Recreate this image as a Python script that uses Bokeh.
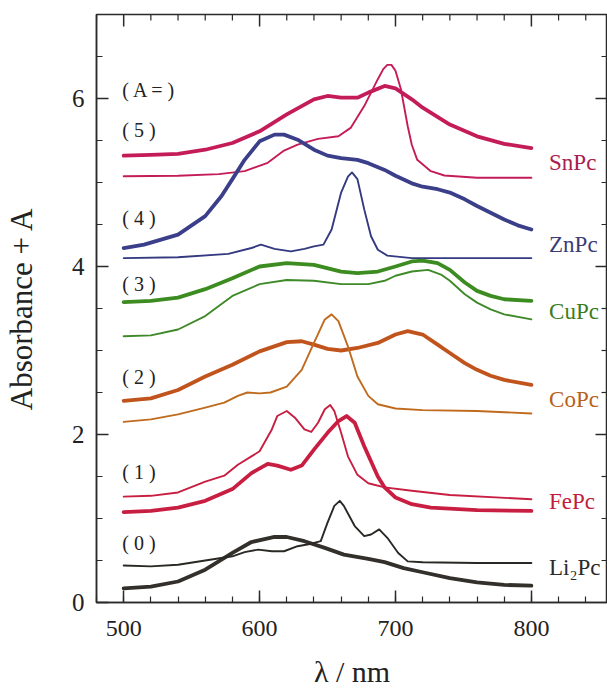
import math
from bokeh.plotting import figure
from bokeh.models import Range1d, SingleIntervalTicker, ColumnDataSource
from bokeh.core.properties import value
from bokeh.embed import file_html
from bokeh.resources import INLINE

# ---------------- data ----------------
sn_thick_nm = [500, 520, 540, 560, 580, 600, 620, 640, 650, 660, 672, 680, 692, 700, 712, 720, 740, 760, 780, 800]
sn_thick_a = [5.32, 5.33, 5.34, 5.39, 5.47, 5.61, 5.81, 5.99, 6.03, 6.01, 6.01, 6.07, 6.15, 6.12, 5.99, 5.89, 5.69, 5.55, 5.46, 5.41]
sn_thin_nm = [500, 540, 570, 589, 606, 618, 628, 643, 658, 667, 677, 687, 691, 694, 697, 700, 704, 709, 712, 716, 726, 736, 760, 800]
sn_thin_a = [5.075, 5.08, 5.10, 5.135, 5.234, 5.38, 5.45, 5.52, 5.55, 5.65, 5.91, 6.23, 6.35, 6.40, 6.40, 6.33, 6.11, 5.67, 5.45, 5.27, 5.135, 5.083, 5.056, 5.056]

zn_thick_nm = [500, 515, 540, 560, 572, 580, 589, 600, 611, 618, 628, 640, 650, 660, 672, 680, 692, 700, 712, 720, 731, 740, 751, 760, 770, 780, 790, 800]
zn_thick_a = [4.22, 4.26, 4.38, 4.60, 4.84, 5.04, 5.27, 5.49, 5.57, 5.57, 5.51, 5.39, 5.32, 5.29, 5.27, 5.23, 5.15, 5.08, 4.99, 4.95, 4.92, 4.88, 4.80, 4.72, 4.64, 4.56, 4.49, 4.44]
zn_thin_nm = [500, 540, 577, 594, 601, 611, 623, 633, 640, 647, 653, 660, 665, 668, 672, 677, 682, 687, 694, 712, 800]
zn_thin_a = [4.10, 4.11, 4.15, 4.22, 4.26, 4.21, 4.18, 4.21, 4.24, 4.26, 4.44, 4.88, 5.07, 5.12, 5.04, 4.68, 4.36, 4.20, 4.13, 4.10, 4.10]

cu_thick_nm = [500, 520, 540, 560, 580, 600, 620, 640, 660, 672, 687, 700, 712, 720, 731, 740, 751, 760, 770, 780, 800]
cu_thick_a = [3.575, 3.59, 3.63, 3.73, 3.86, 4.00, 4.04, 4.02, 3.94, 3.92, 3.94, 4.00, 4.06, 4.07, 4.04, 3.96, 3.81, 3.71, 3.65, 3.61, 3.59]
cu_thin_nm = [500, 520, 540, 560, 580, 600, 620, 640, 660, 680, 692, 700, 712, 724, 734, 740, 751, 760, 770, 780, 800]
cu_thin_a = [3.17, 3.18, 3.25, 3.41, 3.65, 3.79, 3.84, 3.83, 3.79, 3.79, 3.83, 3.89, 3.94, 3.96, 3.90, 3.83, 3.67, 3.57, 3.49, 3.43, 3.37]

co_thick_nm = [500, 520, 540, 560, 580, 600, 620, 631, 640, 650, 660, 672, 687, 700, 709, 720, 731, 740, 751, 760, 770, 780, 800]
co_thick_a = [2.40, 2.43, 2.53, 2.69, 2.83, 2.99, 3.10, 3.11, 3.07, 3.02, 3.00, 3.03, 3.09, 3.19, 3.23, 3.19, 3.07, 2.97, 2.85, 2.77, 2.70, 2.65, 2.59]
co_thin_nm = [500, 520, 540, 560, 574, 584, 591, 600, 608, 620, 631, 640, 648, 653, 658, 665, 672, 680, 687, 700, 720, 760, 800]
co_thin_a = [2.15, 2.18, 2.24, 2.32, 2.38, 2.46, 2.50, 2.49, 2.50, 2.57, 2.77, 3.09, 3.37, 3.43, 3.35, 3.05, 2.69, 2.46, 2.36, 2.31, 2.29, 2.28, 2.25]

fe_thick_nm = [500, 520, 540, 560, 580, 594, 606, 613, 623, 631, 640, 650, 658, 664, 670, 677, 687, 692, 700, 712, 726, 760, 800]
fe_thick_a = [1.075, 1.09, 1.13, 1.21, 1.35, 1.54, 1.65, 1.63, 1.58, 1.63, 1.82, 2.02, 2.16, 2.22, 2.14, 1.86, 1.50, 1.37, 1.25, 1.17, 1.13, 1.10, 1.09]
fe_thin_nm = [500, 520, 540, 560, 574, 584, 594, 600, 609, 613, 620, 626, 633, 638, 643, 648, 652, 655, 660, 665, 672, 680, 692, 712, 740, 800]
fe_thin_a = [1.26, 1.27, 1.31, 1.44, 1.51, 1.64, 1.74, 1.80, 2.06, 2.22, 2.28, 2.20, 2.06, 2.03, 2.14, 2.30, 2.35, 2.28, 2.02, 1.74, 1.52, 1.42, 1.37, 1.33, 1.28, 1.23]

li_thick_nm = [500, 520, 540, 560, 572, 580, 594, 611, 620, 633, 648, 662, 680, 692, 706, 720, 740, 760, 780, 800]
li_thick_a = [0.167, 0.19, 0.25, 0.39, 0.51, 0.59, 0.72, 0.78, 0.78, 0.73, 0.65, 0.57, 0.52, 0.48, 0.41, 0.36, 0.29, 0.24, 0.21, 0.20]
li_thin_nm = [500, 520, 540, 560, 580, 589, 599, 609, 618, 628, 638, 645, 650, 655, 659, 662, 670, 677, 682, 688, 694, 702, 709, 720, 760, 800]
li_thin_a = [0.44, 0.43, 0.45, 0.50, 0.55, 0.60, 0.63, 0.61, 0.61, 0.67, 0.70, 0.73, 0.95, 1.15, 1.21, 1.15, 0.91, 0.79, 0.81, 0.87, 0.77, 0.59, 0.49, 0.48, 0.47, 0.47]

compounds = ["SnPc", "ZnPc", "CuPc", "CoPc", "FePc", "Li\u2082Pc"]
compound_label_y = [5.24, 4.26, 3.46, 2.42, 1.20, 0.42]
offset_labels = ["( A = )", "( 5 )", "( 4 )", "( 3 )", "( 2 )", "( 1 )", "( 0 )"]
offset_label_y = [6.10, 5.63, 4.58, 3.79, 2.68, 1.55, 0.71]

x_major_ticks = [500, 600, 700, 800]
x_minor_ticks = [480, 520, 540, 560, 580, 620, 640, 660, 680, 720, 740, 760, 780, 820, 840]
y_major_ticks = [2, 4, 6]
y_minor_ticks = [0.5, 1, 1.5, 2.5, 3, 3.5, 4.5, 5, 5.5, 6.5]

# ---------------- styles ----------------
SERIF = "Liberation Serif"
INK = "#2a2a2a"
X0, X1, Y0, Y1 = 480, 856, 0, 7
thick_w, thin_w = 3.8, 1.9
series = [
    (sn_thick_nm, sn_thick_a, "#c41c58", thick_w),
    (sn_thin_nm, sn_thin_a, "#c41c58", thin_w),
    (zn_thick_nm, zn_thick_a, "#3b3f8a", thick_w),
    (zn_thin_nm, zn_thin_a, "#343a80", thin_w),
    (cu_thick_nm, cu_thick_a, "#3d8c22", thick_w),
    (cu_thin_nm, cu_thin_a, "#3f8a28", thin_w),
    (co_thick_nm, co_thick_a, "#c0541c", thick_w),
    (co_thin_nm, co_thin_a, "#c06a1e", thin_w),
    (fe_thick_nm, fe_thick_a, "#c81e42", thick_w),
    (fe_thin_nm, fe_thin_a, "#c81e42", thin_w),
    (li_thick_nm, li_thick_a, "#332f2a", thick_w),
    (li_thin_nm, li_thin_a, "#2a2824", thin_w),
]
label_colors = ["#a8204e", "#3a3c78", "#3a7d1e", "#b5621a", "#c01e3c", "#2a2a2a"]

p = figure(width=607, height=690, x_range=Range1d(X0, X1), y_range=Range1d(Y0, Y1),
           output_backend="svg", toolbar_location=None,
           min_border_left=94, min_border_right=0, min_border_top=14, min_border_bottom=87)
p.xgrid.visible = False
p.ygrid.visible = False
p.outline_line_color = INK
p.outline_line_width = 1.5
p.background_fill_color = "white"
p.border_fill_color = "white"

for xs, ys, c, w in series:
    p.line(xs, ys, line_color=c, line_width=w, line_join="round", line_cap="round")

for ax in (p.xaxis[0], p.yaxis[0]):
    ax.axis_line_color = INK
    ax.axis_line_width = 1.5
    ax.major_tick_line_color = INK
    ax.minor_tick_line_color = INK
    ax.major_tick_line_width = 1.5
    ax.minor_tick_line_width = 1.2
    ax.major_tick_in = 12
    ax.major_tick_out = 0
    ax.minor_tick_in = 6
    ax.minor_tick_out = 0
    ax.major_label_text_font = SERIF
    ax.major_label_text_color = "#222222"
    ax.axis_label_text_font = SERIF
    ax.axis_label_text_font_style = "normal"
    ax.axis_label_text_color = "#222222"

p.xaxis.ticker = SingleIntervalTicker(interval=100, num_minor_ticks=5)
p.yaxis.ticker = SingleIntervalTicker(interval=2, num_minor_ticks=4)
p.xaxis.major_label_text_font_size = "24px"
p.yaxis.major_label_text_font_size = "25px"
p.xaxis.major_label_standoff = 18
p.yaxis.major_label_standoff = 12
p.xaxis.axis_label = "\u03bb / nm"
p.yaxis.axis_label = "Absorbance + A"
p.xaxis.axis_label_text_font_size = "30px"
p.yaxis.axis_label_text_font_size = "31px"
p.xaxis.axis_label_standoff = 16
p.yaxis.axis_label_standoff = 30

# mirrored inward ticks on the top and right frame edges
p.ray(x=x_major_ticks, y=[Y1] * len(x_major_ticks), length=12, length_units="screen",
      angle=-math.pi / 2, line_color=INK, line_width=1.5)
p.ray(x=x_minor_ticks, y=[Y1] * len(x_minor_ticks), length=6, length_units="screen",
      angle=-math.pi / 2, line_color=INK, line_width=1.2)
p.ray(x=[X1] * len(y_major_ticks), y=y_major_ticks, length=12, length_units="screen",
      angle=math.pi, line_color=INK, line_width=1.5)
p.ray(x=[X1] * len(y_minor_ticks), y=y_minor_ticks, length=6, length_units="screen",
      angle=math.pi, line_color=INK, line_width=1.2)

src_c = ColumnDataSource(dict(x=[813] * len(compounds), y=compound_label_y, t=compounds, c=label_colors))
p.text(x="x", y="y", text="t", text_color="c", source=src_c, text_font=value(SERIF),
       text_font_size=value("23px"), text_baseline="middle", text_align="left")

src_o = ColumnDataSource(dict(x=[499] * len(offset_labels), y=offset_label_y, t=offset_labels))
p.text(x="x", y="y", text="t", text_color="#222222", source=src_o, text_font=value(SERIF),
       text_font_size=value("20px"), text_baseline="middle", text_align="left")

open("out.html", "w").write(file_html(p, INLINE))
